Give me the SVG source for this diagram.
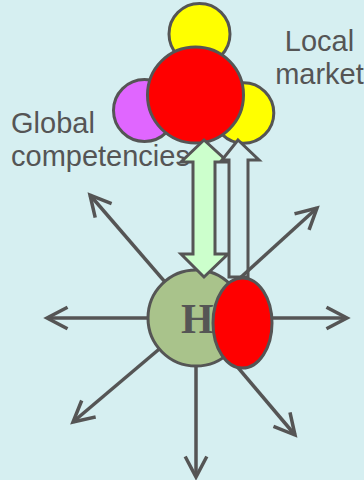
<svg xmlns="http://www.w3.org/2000/svg" width="364" height="480" viewBox="0 0 364 480">
  <style>
    .bub { stroke: #555555; stroke-width: 3; }
    .lbl { font-family: "Liberation Sans", Arial, sans-serif; font-size: 29px; fill: #555555; }
    .ray { stroke: #555555; stroke-width: 3.5; fill: none; marker-end: url(#ah); }
    .blk { stroke: #555555; stroke-width: 3; stroke-linejoin: miter; }
  </style>
  <defs>
    <marker id="ah" markerUnits="userSpaceOnUse" markerWidth="30" markerHeight="30" viewBox="-25 -15 30 30" refX="0" refY="0" orient="auto">
      <path d="M-19,-10 L0,0 L-19,10" fill="none" stroke="#555555" stroke-width="3.5" stroke-linecap="square"/>
    </marker>
  </defs>
  <rect width="364" height="480" fill="#D6EFF1"/>

  <g id="label-local">
    <text class="lbl" x="319.5" y="51" text-anchor="middle">Local</text>
    <text class="lbl" x="319.5" y="84" text-anchor="middle">market</text>
  </g>
  <g id="label-global">
    <text class="lbl" x="11" y="133">Global</text>
    <text class="lbl" x="11" y="166">competencies</text>
  </g>

  <g id="cluster">
    <circle class="bub" cx="199.5" cy="34" r="30.5" fill="#FFFF00"/>
    <circle class="bub" cx="144.5" cy="110.5" r="31" fill="#E066FF"/>
    <circle class="bub" cx="243.5" cy="113" r="30.3" fill="#FFFF00"/>
    <circle class="bub" cx="195.5" cy="95" r="48" fill="#FF0000"/>
  </g>

  <g id="hub">
    <circle class="bub" cx="196" cy="318" r="48" fill="#A9C38B"/>
    <text x="181" y="333" font-family="'Liberation Serif', 'Times New Roman', serif" font-size="42" font-weight="bold" fill="#555555">H</text>
  </g>

  <g id="connectors">
    <polygon class="blk" fill="#CCFFCC" points="204,140 228,162 215,162 215,254 228,254 204,277 181,254 193,254 193,162 181,162"/>
    <polygon class="blk" fill="#D6EFF1" points="238,140 259,160 248,160 248,277 229,277 229,160 222,160"/>
    <line class="ray" x1="148" y1="318" x2="47" y2="318"/>
    <line class="ray" x1="244" y1="318" x2="347" y2="318"/>
    <line class="ray" x1="196" y1="366" x2="196" y2="477"/>
    <line class="ray" x1="164.7" y1="281.7" x2="90" y2="195"/>
    <line class="ray" x1="231.5" y1="285.7" x2="317" y2="208"/>
    <line class="ray" x1="159.3" y1="349" x2="73" y2="422"/>
    <line class="ray" x1="227" y1="354.6" x2="295" y2="435"/>
  </g>

  <g id="local-node">
    <ellipse class="bub" cx="242.5" cy="323" rx="29.5" ry="45" fill="#FF0000"/>
  </g>
</svg>
